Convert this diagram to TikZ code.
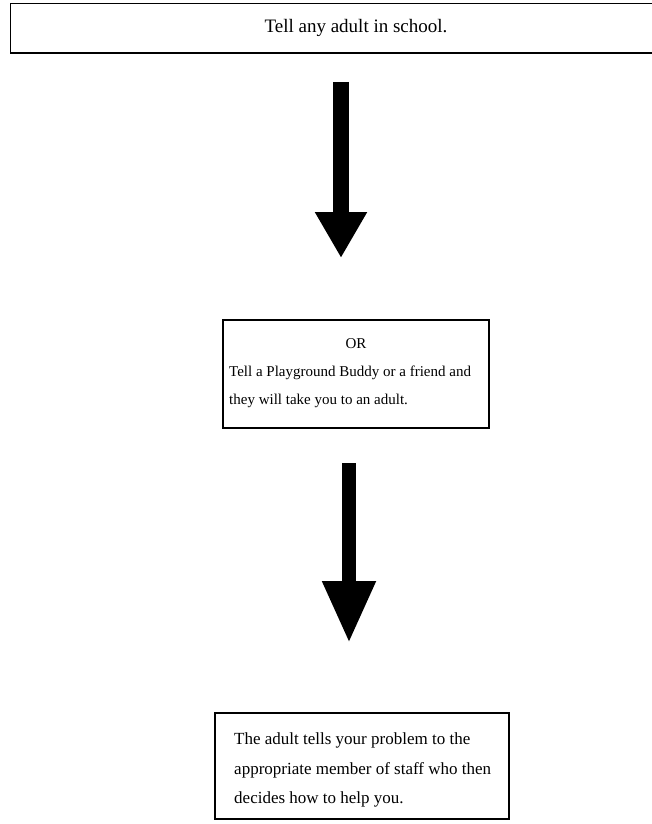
\documentclass[tikz,border=0pt]{standalone}
\usepackage{fontspec}
\setmainfont{Liberation Serif}
\usetikzlibrary{arrows.meta}

\tikzset{
  box/.style={line width=1.6pt},
  txt/.style={font=\fontsize{15}{28.5}\selectfont, inner sep=0pt},
  downarrow/.style={line width=16pt, -{Triangle[width=49pt,length=46pt]}},
  downarrowb/.style={line width=14pt, -{Triangle[width=50pt,length=62pt]}},
}

\begin{document}
\begin{tikzpicture}[x=1pt, y=-1pt]
\useasboundingbox (0,0) rectangle (652,824);
% first step
\draw[box] (10.5,3.5) rectangle (660,53);
\node[txt, font=\fontsize{19}{22}\selectfont] (tell) at (356,28) {Tell any adult in school.};
\coordinate (a1top) at (341,82); \coordinate (a1tip) at (341,258);
\draw[downarrow] (a1top) -- (a1tip);
% second step
\draw[box] (223,320) rectangle (489,428);
\node[txt] (or) at (356,344) {OR};
\node[txt, anchor=west, align=left] (buddy) at (229,387) {Tell a Playground Buddy or a friend and\\they will take you to an adult.};
\coordinate (a2top) at (349,463); \coordinate (a2tip) at (349,643);
\draw[downarrowb] (a2top) -- (a2tip);
% last step
\draw[box] (215,713) rectangle (509,819);
\node[txt, font=\fontsize{17}{29.5}\selectfont, anchor=west, align=left] (staff) at (234,770) {The adult tells your problem to the\\appropriate member of staff who then\\decides how to help you.};
\end{tikzpicture}
\end{document}
